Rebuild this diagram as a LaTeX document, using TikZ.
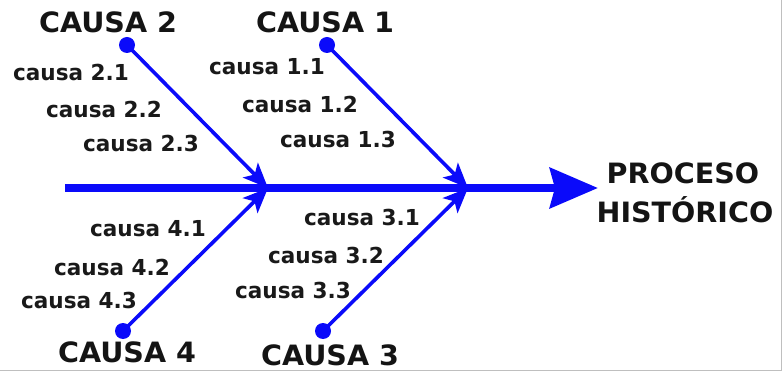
\documentclass[tikz,border=0pt]{standalone}
\usepackage{fontspec}
\setmainfont{DejaVu Sans}
\newfontfamily\bigfont[FakeStretch=1.02]{DejaVu Sans}
\newfontfamily\smallfont[FakeStretch=0.98]{DejaVu Sans}
\usetikzlibrary{arrows.meta}
\definecolor{fishblue}{RGB}{10,10,250}
\tikzset{
  big/.style={font=\bigfont\bfseries\fontsize{28}{30}\selectfont, inner sep=0pt, align=center, text=black!92},
  small/.style={font=\smallfont\bfseries\fontsize{22}{24}\selectfont, inner sep=0pt, text=black!90},
  dot/.style={circle, fill=fishblue, inner sep=0pt, minimum size=16pt},
  branch/.style={draw=fishblue, line width=3.6pt, -{Stealth[length=25pt,width=21pt,inset=6pt]}},
  spine/.style={draw=fishblue, line width=8pt, -{Stealth[length=48pt,width=40pt,inset=5pt]}},
}
\begin{document}
\begin{tikzpicture}[x=1pt,y=-1pt]
\useasboundingbox (0,0) rectangle (784,371);
\draw[black!25, line width=1pt] (0,370) -- (781,370) -- (781,0);
% junctions
\coordinate (s) at (65,188);
\coordinate (e) at (598,188);
\coordinate (j1) at (468,188);
\coordinate (j2) at (268,188);
% cause dots
\node[dot] (c1) at (327,45) {};
\node[dot] (c2) at (127,45) {};
\node[dot] (c3) at (323,331) {};
\node[dot] (c4) at (123,331) {};
% spine
\draw[spine] (s) -- (e);
% branches
\draw[branch] (c1.center) -- (j1);
\draw[branch] (c2.center) -- (j2);
\draw[branch] (c3.center) -- (j1);
\draw[branch] (c4.center) -- (j2);
% big labels
\node[big] (L2) at (108,22) {CAUSA 2};
\node[big] (L1) at (325,22) {CAUSA 1};
\node[big] (L4) at (127,352) {CAUSA 4};
\node[big] (L3) at (330,355) {CAUSA 3};
\node[big] (P1) at (683,173) {PROCESO};
\node[big] (P2) at (685,210) {HISTÓRICO};
% small labels
\node[small] (c21) at (71,72) {causa 2.1};
\node[small] (c22) at (104,109) {causa 2.2};
\node[small] (c23) at (141,143) {causa 2.3};
\node[small] (c11) at (267,67) {causa 1.1};
\node[small] (c12) at (300,104) {causa 1.2};
\node[small] (c13) at (338,139) {causa 1.3};
\node[small] (c41) at (148,229) {causa 4.1};
\node[small] (c42) at (112,267) {causa 4.2};
\node[small] (c43) at (79,300) {causa 4.3};
\node[small] (c31) at (362,217) {causa 3.1};
\node[small] (c32) at (326,255) {causa 3.2};
\node[small] (c33) at (293,290) {causa 3.3};
\end{tikzpicture}
\end{document}
